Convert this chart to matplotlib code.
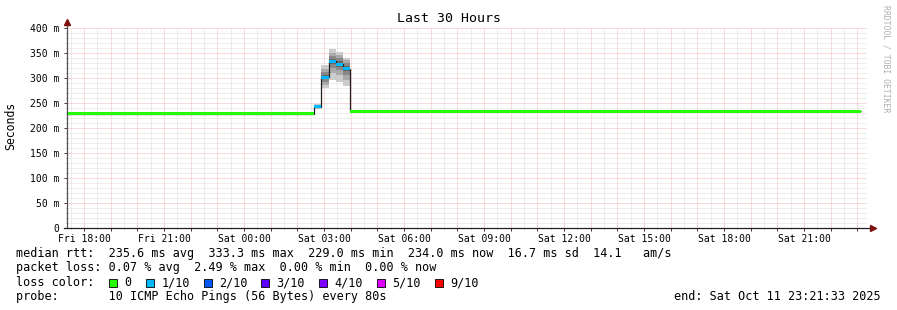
import matplotlib
matplotlib.use("Agg")
import matplotlib.pyplot as plt
import matplotlib.dates as mdates
from matplotlib.patches import Rectangle
from matplotlib.ticker import FixedLocator, FixedFormatter, NullFormatter
import pandas as pd

plt.rcParams['font.family'] = ['DejaVu Sans Mono']

# ---------------- data ----------------
title = "Last 30 Hours"
y_label = "Seconds"
start_time = "2025-10-10 17:21:33"
end_time = "2025-10-11 23:21:33"

# median rtt segments (ms) – segment edges, value per segment
seg_edges = ["2025-10-10 17:21:33", "2025-10-11 02:38", "2025-10-11 02:54",
             "2025-10-11 03:10", "2025-10-11 03:26", "2025-10-11 03:42",
             "2025-10-11 03:58", "2025-10-11 23:08"]
median_ms = [229.0, 243.0, 302.0, 333.3, 328.0, 319.0, 234.0]
loss_level = [0, 1, 1, 1, 1, 1, 0]

# individual pings (ms) per segment for the smoke
smoke_pings = [
    None,
    [239, 240, 241, 242, 243, 243, 244, 245, 246, 248],
    [280, 286, 292, 298, 301, 303, 307, 312, 318, 326],
    [296, 310, 320, 328, 332, 334, 338, 344, 350, 358],
    [292, 306, 316, 323, 327, 329, 334, 340, 346, 352],
    [284, 296, 306, 314, 318, 320, 325, 330, 336, 340],
    None,
]

y_ticks = [0, 50, 100, 150, 200, 250, 300, 350, 400]
y_tick_labels = ["0", "50 m", "100 m", "150 m", "200 m", "250 m", "300 m", "350 m", "400 m"]

x_label_times = ["2025-10-10 18:00", "2025-10-10 21:00", "2025-10-11 00:00",
                 "2025-10-11 03:00", "2025-10-11 06:00", "2025-10-11 09:00",
                 "2025-10-11 12:00", "2025-10-11 15:00", "2025-10-11 18:00",
                 "2025-10-11 21:00"]
x_tick_labels = ["Fri 18:00", "Fri 21:00", "Sat 00:00", "Sat 03:00", "Sat 06:00",
                 "Sat 09:00", "Sat 12:00", "Sat 15:00", "Sat 18:00", "Sat 21:00"]

loss_labels = ["0", "1/10", "2/10", "3/10", "4/10", "5/10", "9/10"]
loss_colors = ["#26ff00", "#00b8ff", "#0059ff", "#5e00ff", "#7e00ff", "#dd00ff", "#ff0000"]

line_rtt = "median rtt:  235.6 ms avg  333.3 ms max  229.0 ms min  234.0 ms now  16.7 ms sd  14.1   am/s"
line_loss = "packet loss: 0.07 % avg  2.49 % max  0.00 % min  0.00 % now"
line_color = "loss color:"
line_probe = "probe:       10 ICMP Echo Pings (56 Bytes) every 80s"
line_end = "end: Sat Oct 11 23:21:33 2025"
watermark = "RRDTOOL / TOBI OETIKER"

# ---------------- figure ----------------
W, H = 897, 310
fig = plt.figure(figsize=(W / 100, H / 100), dpi=100)
fig.patch.set_facecolor("white")


def fx(px):
    return px / W


def fy(py):
    return 1 - py / H


ax = fig.add_axes([fx(67), fy(228), 800 / W, 200 / H])
ax.set_facecolor("white")

t0 = mdates.date2num(pd.Timestamp(start_time))
t1 = mdates.date2num(pd.Timestamp(end_time))
edges = [mdates.date2num(pd.Timestamp(s)) for s in seg_edges]

# smoke
grays = ["#cccccc", "#aaaaaa", "#888888", "#686868", "#4a4a4a"]
for i, pings in enumerate(smoke_pings):
    if pings is None:
        continue
    p = sorted(pings)
    n = len(p)
    for k in range(n // 2):
        ax.bar(edges[i], p[n - 1 - k] - p[k], bottom=p[k], width=edges[i + 1] - edges[i],
               align="edge", color=grays[k], linewidth=0, zorder=2)

# median line
ax.stairs(median_ms, edges, baseline=None, color="#202020", linewidth=0.9, zorder=3)

# loss-coloured median bars
hw = 3.0
for i, m in enumerate(median_ms):
    ax.bar(edges[i], 2 * hw, bottom=m - hw, width=edges[i + 1] - edges[i], align="edge",
           color=loss_colors[loss_level[i]], linewidth=0, zorder=4)

ax.set_xlim(t0, t1)
ax.set_ylim(0, 400)

# grid / ticks
hours = [mdates.date2num(t) for t in pd.date_range("2025-10-10 18:00", "2025-10-11 23:00", freq="h")]
halfs = [mdates.date2num(t) for t in pd.date_range("2025-10-10 17:30", "2025-10-11 23:30", freq="h")]
lab_pos = [mdates.date2num(pd.Timestamp(s)) for s in x_label_times]
lab_map = {round(p, 6): l for p, l in zip(lab_pos, x_tick_labels)}
ax.xaxis.set_major_locator(FixedLocator(hours))
ax.xaxis.set_major_formatter(FixedFormatter([lab_map.get(round(h, 6), "") for h in hours]))
ax.xaxis.set_minor_locator(FixedLocator(halfs))
ax.xaxis.set_minor_formatter(NullFormatter())

ax.yaxis.set_major_locator(FixedLocator(y_ticks))
ax.yaxis.set_major_formatter(FixedFormatter(y_tick_labels))
ax.yaxis.set_minor_locator(FixedLocator([v for v in range(0, 401, 10) if v % 50]))

dot = (0, (1, 1))
ax.grid(which="major", color="#f4b4b4", linestyle=dot, linewidth=0.72, zorder=1)
ax.grid(which="minor", color="#dcdcdc", linestyle=dot, linewidth=0.72, zorder=1)
ax.set_axisbelow(True)

ax.tick_params(which="major", length=2, width=0.72, color="#404040", labelsize=7,
               direction="out")
ax.tick_params(axis="y", which="major", pad=3.6)
ax.tick_params(axis="x", which="major", pad=2.6)
ax.tick_params(which="minor", length=1, width=0.72, color="#909090")
for s in ax.spines.values():
    s.set_visible(False)

# axes with arrows
ax.plot([0, 0], [0, 1.025], transform=ax.transAxes, color="#505050", lw=0.9,
        clip_on=False, zorder=5)
ax.plot([-0.004, 1.006], [0, 0], transform=ax.transAxes, color="#202020", lw=0.9,
        clip_on=False, zorder=5)
ax.plot([0], [1.03], marker="^", markersize=4.5, color="#7f1010", transform=ax.transAxes,
        clip_on=False, zorder=6)
ax.plot([1.007], [0], marker=">", markersize=4.5, color="#7f1010", transform=ax.transAxes,
        clip_on=False, zorder=6)

# texts
fig.text(0.5, fy(19), title, ha="center", va="center", fontsize=9.5)
fig.text(fx(11), fy(126), y_label, rotation=90, ha="center", va="center", fontsize=8.3)
fig.text(fx(886), fy(5), watermark, rotation=-90, ha="center", va="top",
         fontsize=5.9, color="#b0b0b0")

fs = 8.45
fig.text(fx(16), fy(254), line_rtt, va="center", fontsize=fs)
fig.text(fx(16), fy(268), line_loss, va="center", fontsize=fs)
fig.text(fx(16), fy(282.5), line_color, va="center", fontsize=fs)
fig.text(fx(16), fy(296.5), line_probe, va="center", fontsize=fs)
fig.text(fx(881), fy(296.5), line_end, va="center", ha="right", fontsize=fs)

box_x = [109, 146, 204, 261, 319, 377, 435]
for bx, lab, col in zip(box_x, loss_labels, loss_colors):
    fig.add_artist(Rectangle((fx(bx), fy(287)), 8 / W, 8 / H, transform=fig.transFigure,
                             facecolor=col, edgecolor="black", linewidth=0.6))
    fig.text(fx(bx + 15.5), fy(282.5), lab, va="center", fontsize=fs)

fig.savefig("out.png", dpi=100, facecolor="white")
